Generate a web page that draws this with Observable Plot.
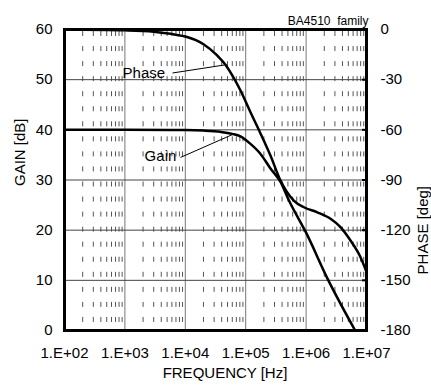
<!DOCTYPE html>
<html><head><meta charset="utf-8">
<script src="https://cdn.jsdelivr.net/npm/d3@7"></script>
<script src="https://cdn.jsdelivr.net/npm/@observablehq/plot@0.6"></script>
<style>html,body{margin:0;padding:0;background:#fff;overflow:hidden} svg{display:block}</style>
</head><body><div id="chart"></div>
<script>
// Gain curve (frequency Hz, dB)
const gainFreq = [1e2, 1e3, 1e4, 2e4, 3.8e4, 6e4, 8.2e4, 1.2e5, 1.76e5, 2.57e5, 3.77e5, 5.2e5, 1e6, 2.25e6, 6.5e6];
const gainDb   = [40, 40, 39.95, 39.85, 39.6, 39.2, 38.7, 37.2, 35.2, 32.3, 29.6, 25.9, 19.5, 10.4, 0];
// Phase curve (frequency Hz, degrees)
const phaseFreq = [1e2, 1e3, 3e3, 5.7e3, 1.1e4, 1.5e4, 2e4, 3.37e4, 4.63e4, 6e4, 8.2e4, 1.2e5, 1.75e5, 2.57e5, 3.77e5, 6.25e5, 9.2e5, 1.53e6, 2.54e6, 3.71e6, 5.43e6, 7.96e6, 1e7];
const phaseDeg  = [0, -0.5, -1.3, -2.6, -4.6, -6.4, -8.8, -15.5, -21.1, -27.5, -36.5, -49.5, -62, -75.4, -90.3, -102.3, -106.3, -109.3, -113.2, -118.2, -126.2, -136.2, -145];
// Axes
const xTicks = [1e2, 1e3, 1e4, 1e5, 1e6, 1e7];
const xTickLabels = ["1.E+02", "1.E+03", "1.E+04", "1.E+05", "1.E+06", "1.E+07"];
const gainTicks = [0, 10, 20, 30, 40, 50, 60];
const phaseTickLabels = ["-180", "-150", "-120", "-90", "-60", "-30", "0"];
const minorMultipliers = [2, 3, 4, 5, 6, 7, 8, 9];
const decades = [1e2, 1e3, 1e4, 1e5, 1e6];
// Annotations (label, x freq, y gain-scale) and leader lines
const annotLabels = ["Phase", "Gain"];
const annotFreq = [2.06e3, 3.88e3];
const annotVal = [51.3, 34.7];
const leaderFreq1 = [6.14e3, 8.33e3];
const leaderVal1 = [51.33, 34.5];
const leaderFreq2 = [4.63e4, 6.35e4];
const leaderVal2 = [52.96, 39.17];

const phaseToGainScale = p => 60 + p / 3;  // 0..-180 deg -> 60..0 on left scale

const gainData = gainFreq.map((f, i) => ({f, v: gainDb[i]}));
const phaseData = phaseFreq.map((f, i) => ({f, v: phaseToGainScale(phaseDeg[i])}));
const minor = decades.flatMap(d => minorMultipliers.map(m => d * m));
const annots = annotLabels.map((t, i) => ({t, f: annotFreq[i], v: annotVal[i]}));
const leaders = annotLabels.map((t, i) => ({f1: leaderFreq1[i], v1: leaderVal1[i], f2: leaderFreq2[i], v2: leaderVal2[i]}));

const plot = Plot.plot({
  width: 431, height: 387,
  marginLeft: 64, marginRight: 65, marginTop: 29, marginBottom: 57,
  style: {fontFamily: "'Liberation Sans', Arial, sans-serif", fontSize: "15px", color: "#000", background: "#fff"},
  x: {type: "log", domain: [1e2, 1e7]},
  y: {domain: [0, 60]},
  marks: [
    Plot.ruleX(minor, {y1: 60, y2: 0, stroke: "#555", strokeWidth: 1, strokeDasharray: "5,10.05", strokeDashoffset: 13.05}),
    Plot.ruleX(decades.slice(1), {stroke: "#777", strokeWidth: 1}),
    Plot.ruleY([10, 20, 30, 40, 50], {stroke: "#444", strokeWidth: 1}),
    Plot.line(gainData, {x: "f", y: "v", stroke: "#000", strokeWidth: 2.5, curve: "monotone-x", clip: true}),
    Plot.line(phaseData, {x: "f", y: "v", stroke: "#000", strokeWidth: 2.5, curve: "monotone-x", clip: true}),
    Plot.link(leaders, {x1: "f1", y1: "v1", x2: "f2", y2: "v2", stroke: "#000", strokeWidth: 1}),
    Plot.text(annots, {x: "f", y: "v", text: "t", fontSize: 15}),
    Plot.frame({stroke: "#000", strokeWidth: 3}),
    Plot.axisX(xTicks, {tickSize: 0, tickPadding: 17, tickFormat: d => xTickLabels[xTicks.indexOf(d)], label: null}),
    Plot.axisY(gainTicks, {anchor: "left", tickSize: 0, tickPadding: 12, label: null}),
    Plot.axisY(gainTicks, {anchor: "right", tickSize: 0, tickPadding: 14, tickFormat: d => phaseTickLabels[gainTicks.indexOf(d)], label: null}),
    Plot.axisY(gainTicks.slice(1, -1), {anchor: "right", tickSize: 5, dx: -5, strokeWidth: 2, tickFormat: () => "", label: null}),
    Plot.text(["FREQUENCY [Hz]"], {frameAnchor: "bottom", lineAnchor: "top", dy: 37, dx: 9.5}),
    Plot.text(["GAIN [dB]"], {frameAnchor: "left", rotate: -90, dx: -44, dy: 6}),
    Plot.text(["PHASE [deg]"], {frameAnchor: "right", rotate: -90, dx: 57, dy: 6}),
    Plot.text(["BA4510\u00a0 family"], {frameAnchor: "top-right", textAnchor: "end", lineAnchor: "bottom", dy: -5, dx: 2, fontSize: 12})
  ]
});
document.getElementById("chart").appendChild(plot);
</script>
</body></html>
